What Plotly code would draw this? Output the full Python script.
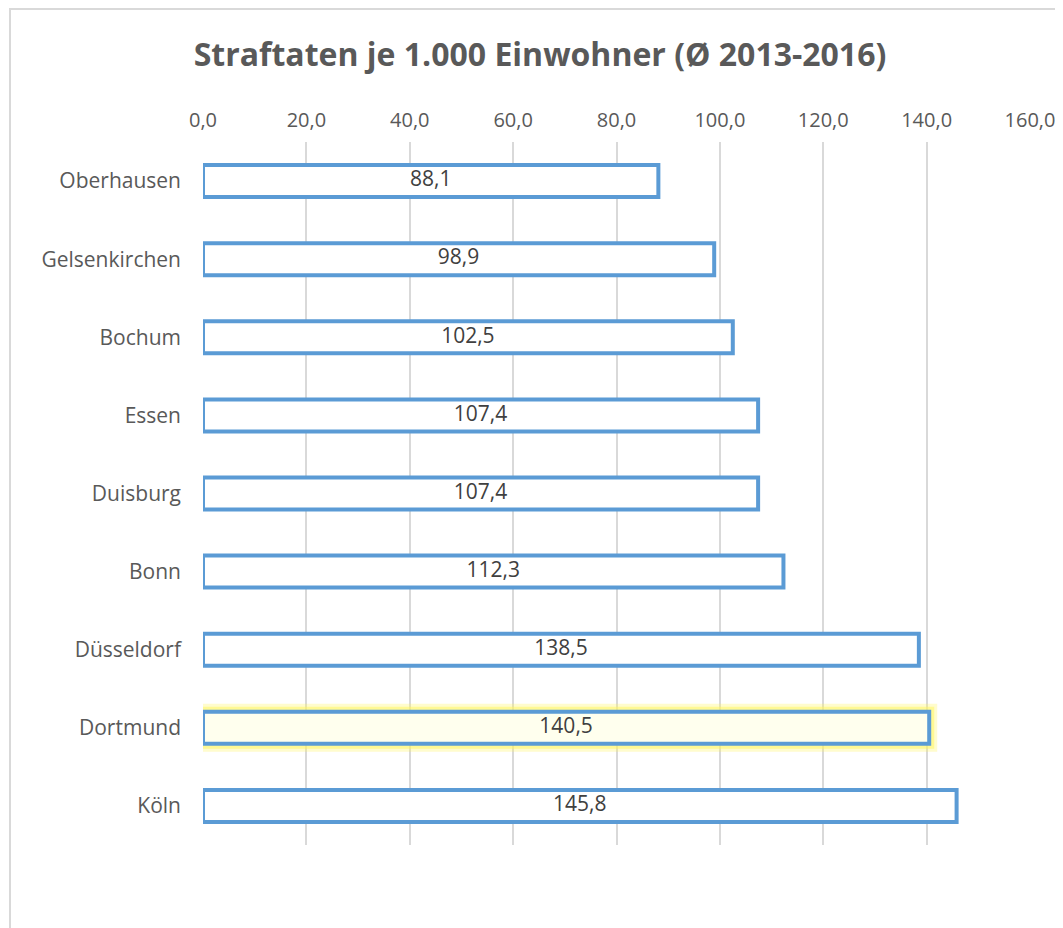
import plotly.graph_objects as go

cities = ["Oberhausen", "Gelsenkirchen", "Bochum", "Essen", "Duisburg",
          "Bonn", "Düsseldorf", "Dortmund", "Köln"]
values = [88.1, 98.9, 102.5, 107.4, 107.4, 112.3, 138.5, 140.5, 145.8]
highlight = "Dortmund"
tick_vals = [0, 20, 40, 60, 80, 100, 120, 140, 160]

FONT = "Open Sans"
BLUE = "#5B9BD5"
TXT = "#595959"

glow_vals = [v if c == highlight else None for c, v in zip(cities, values)]
fills = ["#FFFFEE" if c == highlight else "white" for c in cities]
labels = [f"{v:.1f}".replace(".", ",") for v in values]

fig = go.Figure()
fig.add_trace(go.Bar(
    y=cities, x=glow_vals, orientation="h", width=0.41,
    marker=dict(color="rgba(255,255,255,0)",
                line=dict(color="rgba(255,245,90,0.3)", width=16)),
    hoverinfo="skip", showlegend=False))
fig.add_trace(go.Bar(
    y=cities, x=glow_vals, orientation="h", width=0.41,
    marker=dict(color="rgba(255,255,255,0)",
                line=dict(color="rgba(255,245,90,0.5)", width=10)),
    hoverinfo="skip", showlegend=False))
fig.add_trace(go.Bar(
    y=cities, x=values, orientation="h", width=0.41,
    marker=dict(color=fills, line=dict(color=BLUE, width=4)),
    hoverinfo="skip", showlegend=False))
# data labels centred in each bar
fig.add_trace(go.Scatter(
    y=cities, x=[v / 2 for v in values], mode="text", text=labels,
    textposition="middle center",
    textfont=dict(family=FONT, size=21, color="#404040"),
    hoverinfo="skip", showlegend=False, cliponaxis=False))

L, R, T, B = 195, 1022, 134, 837

fig.update_layout(
    width=1063, height=928,
    barmode="overlay",
    separators=",.",
    paper_bgcolor="white", plot_bgcolor="white",
    margin=dict(l=L, r=1063 - R, t=T, b=928 - B),
    font=dict(family=FONT, color=TXT),
    title=dict(text="<b>Straftaten je 1.000 Einwohner (Ø 2013-2016)</b>",
               x=532 / 1063, xref="container", xanchor="center",
               y=1 - 47 / 928, yref="container", yanchor="middle",
               font=dict(family=FONT, size=32, color=TXT)),
    xaxis=dict(side="top", range=[0, 160], tickvals=tick_vals,
               tickformat=".1f", showgrid=True, gridcolor="#D9D9D9",
               gridwidth=1.5, zeroline=False, showline=False, ticks="",
               ticklabelstandoff=10,
               tickfont=dict(family=FONT, size=20, color=TXT),
               fixedrange=True),
    yaxis=dict(autorange="reversed", showgrid=False, zeroline=False,
               showline=False, ticks="", ticklabelstandoff=21,
               tickfont=dict(family=FONT, size=21, color=TXT),
               fixedrange=True),
    shapes=[dict(type="rect", xref="paper", yref="paper",
                 x0=(2 - L) / (R - L), x1=1.1, y0=-0.2, y1=(B - 1) / (B - T),
                 line=dict(color="#D9D9D9", width=2), fillcolor="rgba(0,0,0,0)",
                 layer="below")],
)

fig.write_html("out.html")
